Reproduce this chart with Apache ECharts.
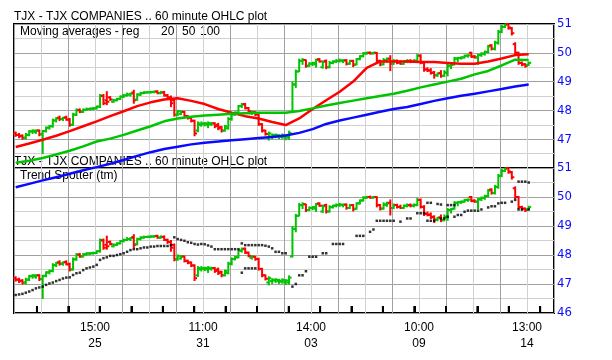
<!DOCTYPE html>
<html><head><meta charset="utf-8">
<script src="https://cdn.jsdelivr.net/npm/echarts@6/dist/echarts.min.js"></script>
<style>html,body{margin:0;padding:0;background:#fff}#c{width:612px;height:360px}</style>
</head><body><div id="c"></div>
<script>
// ---- DATA (60-minute OHLC bars) ----
const opens = [
47.20,47.15,47.12,47.05,47.15,47.27,47.25,47.30,47.17,47.28,
47.40,47.45,47.65,47.75,47.70,47.76,47.68,47.50,47.85,48.02,
47.95,48.02,48.05,48.06,48.07,48.13,48.50,48.35,48.45,48.30,
48.35,48.40,48.48,48.52,48.55,48.62,48.38,48.55,48.60,48.62,
48.63,48.64,48.66,48.60,48.62,48.52,48.45,48.35,47.85,47.88,
47.95,47.80,47.74,47.64,47.30,47.50,47.52,47.50,47.52,47.55,
47.50,47.42,47.30,47.38,47.70,47.86,47.92,48.15,48.22,48.08,
47.90,47.94,47.86,47.52,47.30,47.05,47.10,47.12,47.10,47.08,
47.06,47.05,47.95,48.90,49.35,49.72,49.75,49.55,49.62,49.60,
49.78,49.50,49.72,49.50,49.65,49.70,49.72,49.72,49.74,49.62,
49.72,49.60,49.78,49.88,49.98,50.00,49.98,50.00,49.72,49.60,
49.72,49.80,49.62,49.72,49.66,49.62,49.70,49.72,49.70,49.72,
49.90,49.66,49.42,49.40,49.32,49.22,49.30,49.20,49.30,49.55,
49.60,49.80,49.82,49.84,49.90,50.00,49.88,49.84,49.92,49.97,
50.03,50.26,50.14,50.35,50.73,50.90,51.00,50.85,50.30,50.00,
49.65,49.60,49.58];
const highs = [
47.25,47.20,47.15,47.20,47.30,47.32,47.32,47.32,47.30,47.42,
47.48,47.70,47.75,47.80,47.76,47.80,47.72,47.90,48.05,48.05,
48.05,48.08,48.08,48.10,48.15,48.55,48.55,48.65,48.48,48.38,
48.42,48.50,48.55,48.60,48.60,48.70,48.58,48.63,48.65,48.65,
48.66,48.67,48.68,48.66,48.66,48.55,48.50,48.38,48.00,47.98,
47.96,47.82,47.76,47.66,47.60,47.60,47.58,47.60,47.58,47.57,
47.55,47.44,47.48,47.75,47.90,47.95,48.17,48.24,48.24,48.10,
47.97,47.95,47.89,47.54,47.31,47.25,47.18,47.18,47.16,47.18,
47.15,47.28,48.98,49.40,49.78,49.80,49.75,49.66,49.67,49.78,
49.80,49.72,49.75,49.70,49.72,49.76,49.78,49.76,49.76,49.74,
49.74,49.80,49.90,50.01,50.02,50.03,50.02,50.01,49.74,49.80,
49.82,49.90,49.76,49.75,49.72,49.72,49.76,49.76,49.76,49.95,
49.93,49.70,49.48,49.45,49.35,49.30,49.38,49.38,49.60,49.60,
49.84,49.84,49.86,49.92,49.93,50.02,49.90,49.95,50.00,50.06,
50.26,50.28,50.40,50.78,50.95,51.00,51.02,50.88,50.35,50.02,
49.68,49.62,49.68];
const lows = [
47.10,47.05,47.00,47.00,47.12,47.20,47.20,47.12,46.50,47.25,
47.35,47.42,47.60,47.65,47.65,47.66,47.45,47.48,47.82,47.92,
47.93,48.00,48.02,48.03,48.05,48.10,48.20,48.20,48.35,48.28,
48.33,48.38,48.45,48.50,48.50,48.25,48.35,48.52,48.58,48.60,
48.60,48.61,48.58,48.58,48.50,48.40,48.13,47.80,47.82,47.86,
47.76,47.70,47.60,47.12,47.26,47.45,47.46,47.40,47.48,47.40,
47.33,47.25,47.28,47.35,47.66,47.83,47.90,48.10,48.05,47.94,
47.86,47.82,47.48,47.25,47.14,46.97,47.02,47.05,47.02,47.03,
46.98,47.00,47.93,48.80,49.35,49.60,49.50,49.53,49.56,49.50,
49.68,49.47,49.45,49.48,49.62,49.66,49.68,49.66,49.58,49.60,
49.52,49.58,49.76,49.86,49.95,49.96,49.96,49.66,49.55,49.58,
49.68,49.38,49.60,49.62,49.60,49.60,49.66,49.66,49.66,49.70,
49.62,49.36,49.35,49.26,49.12,49.18,49.15,49.18,49.20,49.45,
49.58,49.70,49.78,49.82,49.85,49.84,49.82,49.60,49.88,49.92,
50.00,50.10,50.10,50.30,50.70,50.88,50.82,50.62,49.95,49.60,
49.55,49.50,49.56];
const closes = [
47.15,47.10,47.05,47.15,47.27,47.30,47.30,47.17,47.28,47.40,
47.45,47.65,47.72,47.70,47.74,47.68,47.50,47.85,48.00,47.95,
48.02,48.05,48.06,48.07,48.13,48.52,48.25,48.30,48.38,48.35,
48.40,48.48,48.52,48.55,48.58,48.35,48.55,48.60,48.62,48.63,
48.64,48.65,48.60,48.63,48.52,48.45,48.25,47.85,47.97,47.95,
47.80,47.74,47.64,47.20,47.55,47.55,47.55,47.56,47.55,47.45,
47.38,47.30,47.45,47.70,47.86,47.92,48.15,48.20,48.08,47.97,
47.94,47.86,47.52,47.30,47.18,47.20,47.15,47.15,47.12,47.14,
47.12,47.22,48.90,49.35,49.72,49.75,49.55,49.62,49.65,49.75,
49.70,49.68,49.50,49.65,49.70,49.72,49.74,49.73,49.62,49.72,
49.58,49.78,49.88,49.98,50.00,49.98,50.00,49.72,49.60,49.75,
49.78,49.62,49.72,49.66,49.62,49.70,49.72,49.70,49.73,49.90,
49.66,49.42,49.38,49.30,49.22,49.28,49.20,49.32,49.55,49.58,
49.80,49.82,49.84,49.90,49.91,49.86,49.84,49.92,49.97,50.03,
50.22,50.14,50.35,50.73,50.90,50.97,50.88,50.68,50.00,49.65,
49.60,49.55,49.65];

// moving averages, one reading every maStep bars
const maStep = 4;
const ma20 = [46.73,46.85,46.98,47.12,47.28,47.45,47.62,47.80,47.97,48.15,48.28,48.38,48.42,48.33,48.22,48.05,47.92,47.80,47.72,47.60,47.49,47.72,48.05,48.35,48.65,49.00,49.48,49.70,49.70,49.70,49.68,49.68,49.65,49.62,49.62,49.70,49.80,49.92,49.95];
const ma50 = [46.18,46.25,46.35,46.47,46.60,46.75,46.92,47.02,47.15,47.30,47.45,47.62,47.72,47.78,47.82,47.85,47.88,47.90,47.92,47.92,47.92,47.98,48.07,48.17,48.26,48.34,48.42,48.50,48.58,48.68,48.80,48.90,49.00,49.10,49.25,49.37,49.56,49.76,49.75];
const ma100 = [45.33,45.45,45.57,45.68,45.80,45.92,46.03,46.15,46.28,46.42,46.55,46.66,46.74,46.82,46.88,46.92,46.96,47.00,47.04,47.08,47.13,47.22,47.35,47.53,47.65,47.75,47.85,47.95,48.05,48.12,48.22,48.33,48.42,48.51,48.58,48.66,48.74,48.83,48.90];

// Trend Spotter dots (one per bar, null = no dot)
const trendSupport = [
46.62,46.64,46.66,46.70,46.74,46.79,46.85,46.88,46.91,46.97,
47.02,47.05,47.10,47.14,47.19,47.22,47.23,47.31,47.37,47.39,
47.48,47.54,47.57,47.60,47.66,47.83,47.89,47.92,47.97,47.97,
48.00,48.03,48.06,48.11,48.17,48.20,48.20,48.23,48.26,48.26,
48.29,48.29,48.31,48.31,48.31,48.31,48.34,null,null,null,
null,null,null,null,null,null,null,null,null,null,
null,null,null,null,null,null,null,47.39,47.54,47.54,
47.54,47.54,null,null,null,null,null,null,null,null,
null,null,46.91,47.00,47.30,47.30,47.44,47.94,47.94,47.94,
null,48.06,48.06,null,48.38,48.38,48.38,48.38,null,null,
null,48.66,48.66,48.66,null,48.80,48.88,49.18,49.18,49.18,
49.18,49.18,49.18,null,49.15,null,49.26,49.26,null,49.44,
49.44,49.44,49.18,49.18,49.18,null,49.26,49.26,49.32,null,
49.32,49.38,49.38,49.49,49.53,49.53,49.53,49.53,49.57,null,
49.64,49.68,49.68,49.78,49.80,49.80,null,49.84,49.90,49.57,
49.57,null,49.57];
const trendResist = [
null,null,null,null,null,null,null,null,null,null,
null,null,null,null,null,null,null,null,null,null,
null,null,null,null,null,null,null,null,null,null,
null,null,null,null,null,null,null,null,null,null,
null,null,null,null,null,null,null,48.61,48.55,48.52,
48.49,48.44,48.42,48.38,48.36,48.38,48.37,48.33,48.29,48.20,
48.20,48.20,48.20,48.20,48.20,48.20,48.20,48.40,48.34,48.34,
48.34,48.34,48.34,48.34,48.32,48.29,48.23,48.11,48.11,48.06,
48.06,null,null,null,null,null,null,null,null,null,
null,null,null,null,null,null,null,null,null,null,
null,null,null,null,null,null,null,null,null,null,
null,null,null,null,null,null,null,null,null,null,
null,null,49.80,49.80,null,49.76,49.74,null,49.72,49.72,
49.72,null,null,null,null,null,null,null,null,null,
null,null,null,null,null,null,null,null,null,50.53,
50.53,50.53,50.50];

// x axis: time / date labels and tick marks, in bar units
const timeLabels = ['15:00','11:00','14:00','10:00','13:00'];
const dateLabels = ['25','31','03','09','14'];
const labelBars = [24,56,88,120,152];
const tickBars = [6.8,16.1,25.4,34.8,44.1,53.4,62.7,72.0,81.4,90.7,100.0,109.3,118.6,128.0,137.3,146.6,155.9];

const TITLE = 'TJX - TJX COMPANIES .. 60 minute OHLC plot';

// ---- CHART ----
const GREEN = '#00c400', RED = '#ff0000', BLUE = '#0a0aff';
const FONT = '"Liberation Sans", Arial, sans-serif';
const ohlc = opens.map((o, i) => [i + 0.5, o, highs[i], lows[i], closes[i]]);
const maData = arr => arr.map((v, k) => [k * maStep + 0.5, v]);
const dots = arr => arr.map((v, i) => v == null ? null : [i + 0.5, v]).filter(d => d);

function renderOHLC(params, api) {
  const x = api.value(0), o = api.value(1), h = api.value(2), l = api.value(3), c = api.value(4);
  const pH = api.coord([x, h]), pL = api.coord([x, l]), pO = api.coord([x, o]), pC = api.coord([x, c]);
  const col = c >= o ? GREEN : RED;
  const st = {stroke: col, lineWidth: 2};
  return {type: 'group', children: [
    {type: 'line', shape: {x1: pH[0], y1: pH[1] - 0.5, x2: pL[0], y2: pL[1] + 0.5}, style: st},
    {type: 'line', shape: {x1: pO[0] - 2.5, y1: pO[1], x2: pO[0], y2: pO[1]}, style: st},
    {type: 'line', shape: {x1: pC[0], y1: pC[1], x2: pC[0] + 2.5, y2: pC[1]}, style: st}
  ]};
}
// bottom tick marks: a short stroke from just above the axis down to it
function renderTick(params, api) {
  const top = api.coord([api.value(0), api.value(1)]);
  const bot = api.coord([api.value(0), 46]);
  return {type: 'line', shape: {x1: top[0], y1: top[1], x2: bot[0], y2: bot[1]}, style: {stroke: '#000', lineWidth: 2}};
}

const splitX = {show: true, lineStyle: {color: ['#a0a0a0', '#d0d0d0'], width: 1}};
const splitY = {show: true, lineStyle: {color: ['#a0a0a0', '#d0d0d0'], width: 1}};
function yAx(grid, hideMin) {
  return {gridIndex: grid, type: 'value', position: 'right', min: 46, max: 51, interval: 0.5,
    axisLine: {show: false}, axisTick: {show: false}, splitLine: splitY,
    axisLabel: {color: BLUE, margin: 3, fontSize: 13,
      fontFamily: '"Liberation Sans Narrow", "DejaVu Sans Condensed", "Liberation Sans", sans-serif',
      formatter: v => (Math.abs(v - Math.round(v)) < 1e-6 && !(hideMin && v === 46)) ? String(Math.round(v)) : ''}};
}

const chart = echarts.init(document.getElementById('c'), null, {renderer: 'canvas'});
chart.setOption({
  animation: false,
  backgroundColor: '#fff',
  grid: [
    {left: 14, top: 24, width: 540, height: 144, show: true, borderColor: '#000', borderWidth: 2},
    {left: 14, top: 168, width: 540, height: 145, show: true, borderColor: '#000', borderWidth: 2}
  ],
  xAxis: [
    {gridIndex: 0, type: 'value', min: 0, max: 160, interval: 8, position: 'bottom', axisLine: {show: false}, axisTick: {show: false}, axisLabel: {show: false}, splitLine: splitX},
    {gridIndex: 1, type: 'value', min: 0, max: 160, interval: 8, position: 'top', axisLine: {show: false}, axisTick: {show: false}, axisLabel: {show: false}, splitLine: splitX},
    {gridIndex: 1, type: 'value', min: 0, max: 160, position: 'bottom', axisLine: {show: false}, splitLine: {show: false},
      axisTick: {show: true, inside: true, length: 7, customValues: tickBars, lineStyle: {color: '#000', width: 2}},
      axisLabel: {show: true, customValues: labelBars, margin: 7, lineHeight: 16, fontSize: 12, fontFamily: FONT, color: '#000',
        formatter: v => { const k = labelBars.indexOf(v); return k < 0 ? '' : timeLabels[k] + '\n' + dateLabels[k]; }}}
  ],
  yAxis: [yAx(0, true), yAx(1, false)],
  series: [
    {type: 'custom', xAxisIndex: 0, yAxisIndex: 0, renderItem: renderOHLC, data: ohlc, encode: {x: 0, y: [1, 2, 3, 4]}, silent: true, z: 2},
    {type: 'line', xAxisIndex: 0, yAxisIndex: 0, data: maData(ma20), showSymbol: false, clip: false, silent: true, z: 3, color: RED, lineStyle: {color: RED, width: 2.5}},
    {type: 'line', xAxisIndex: 0, yAxisIndex: 0, data: maData(ma50), showSymbol: false, clip: false, silent: true, z: 3, color: GREEN, lineStyle: {color: GREEN, width: 2.5}},
    {type: 'line', xAxisIndex: 0, yAxisIndex: 0, data: maData(ma100), showSymbol: false, clip: false, silent: true, z: 4, color: BLUE, lineStyle: {color: BLUE, width: 2.5}},
    {type: 'custom', xAxisIndex: 1, yAxisIndex: 1, renderItem: renderOHLC, data: ohlc, encode: {x: 0, y: [1, 2, 3, 4]}, silent: true, z: 2},
    {type: 'scatter', xAxisIndex: 1, yAxisIndex: 1, data: dots(trendSupport), symbol: 'rect', symbolSize: 2.5, itemStyle: {color: '#000'}, silent: true, z: 3},
    {type: 'scatter', xAxisIndex: 1, yAxisIndex: 1, data: dots(trendResist), symbol: 'rect', symbolSize: 2.5, itemStyle: {color: '#000'}, silent: true, z: 3},
    {type: 'custom', xAxisIndex: 1, yAxisIndex: 1, renderItem: renderTick, data: tickBars.map(v => [v, 46.24]), encode: {x: 0, y: 1}, clip: false, silent: true, z: 5}
  ],
  graphic: [
    {type: 'text', x: 14, y: 17, style: {text: TITLE, font: '12px ' + FONT, fill: '#000', verticalAlign: 'middle'}},
    {type: 'text', x: 20, y: 32, style: {text: 'Moving averages - reg', font: '12px ' + FONT, fill: '#000', verticalAlign: 'middle'}},
    {type: 'text', x: 161, y: 32, style: {text: '20', font: '12px ' + FONT, fill: '#000', verticalAlign: 'middle'}},
    {type: 'text', x: 182, y: 32, style: {text: '50', font: '12px ' + FONT, fill: '#000', verticalAlign: 'middle'}},
    {type: 'text', x: 200, y: 32, style: {text: '100', font: '12px ' + FONT, fill: '#000', verticalAlign: 'middle'}},
    {type: 'text', x: 14, y: 161.5, style: {text: TITLE, font: '12px ' + FONT, fill: '#000', verticalAlign: 'middle'}},
    {type: 'text', x: 20, y: 176, style: {text: 'Trend Spotter (tm)', font: '12px ' + FONT, fill: '#000', verticalAlign: 'middle'}}
  ]
});
</script>
</body></html>
